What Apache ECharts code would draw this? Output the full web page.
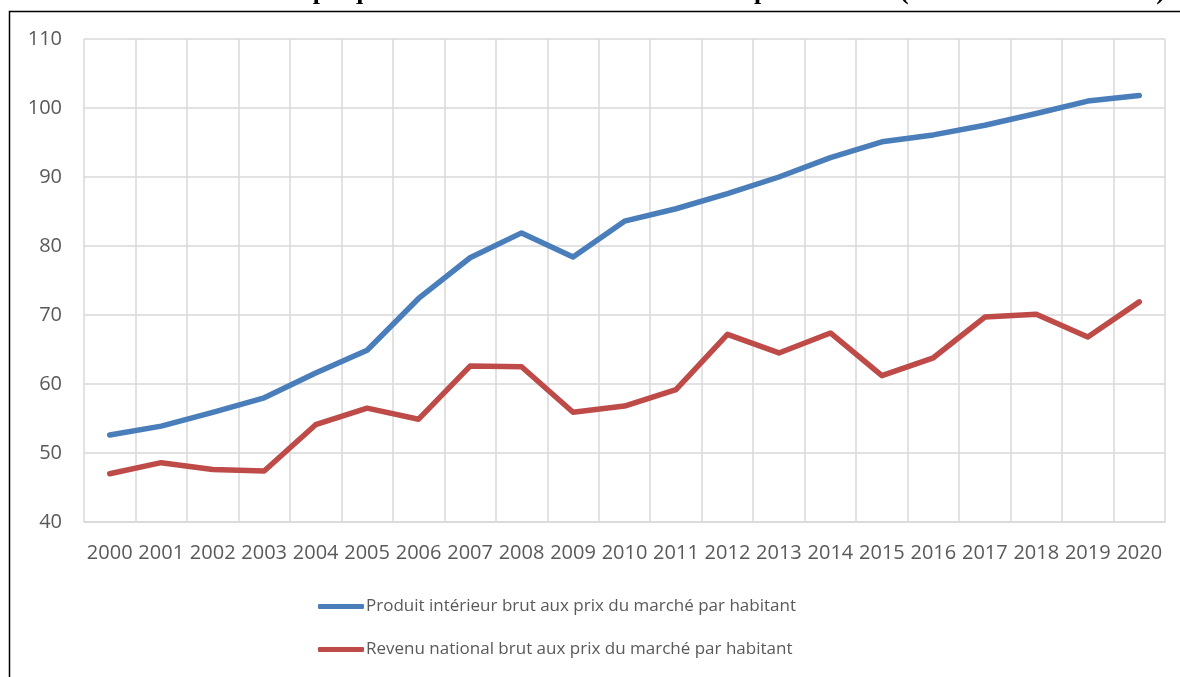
<!DOCTYPE html>
<html>
<head>
<meta charset="utf-8">
<script src="https://cdn.jsdelivr.net/npm/echarts@6/dist/echarts.min.js"></script>
<style>
  html, body { margin: 0; padding: 0; background: #fff; }
  #chart { width: 1180px; height: 677px; }
</style>
</head>
<body>
<div id="chart"></div>
<script>
const years = ["2000", "2001", "2002", "2003", "2004", "2005", "2006", "2007", "2008", "2009", "2010",
    "2011", "2012", "2013", "2014", "2015", "2016", "2017", "2018", "2019", "2020"];
const pibParHabitant = [52.6, 53.9, 55.9, 58.0, 61.6, 64.9, 72.4, 78.3, 81.9, 78.4, 83.6,
    85.4, 87.6, 90.0, 92.8, 95.1, 96.1, 97.5, 99.2, 101.0, 101.8];
const rnbParHabitant = [47.0, 48.6, 47.6, 47.4, 54.1, 56.5, 54.9, 62.6, 62.5, 55.9, 56.8,
    59.2, 67.2, 64.5, 67.4, 61.2, 63.8, 69.7, 70.1, 66.8, 71.9];
const seriesNames = [
    "Produit intérieur brut aux prix du marché par habitant",
    "Revenu national brut aux prix du marché par habitant"
];
const titleText = "Graphique 3 : Évolution du PIB et du RNB par habitant (en milliers de dirhams)";

const chart = echarts.init(document.getElementById("chart"));

const labelFont = "'Open Sans', 'Noto Sans', sans-serif";

chart.setOption({
    animation: false,
    backgroundColor: "#ffffff",
    graphic: [
        {
            // title sits above the page edge, only its lower part shows
            type: "text",
            x: 1165,
            y: -21,
            style: {
                text: titleText,
                align: "right",
                verticalAlign: "top",
                font: "bold 26px 'Liberation Serif', serif",
                fill: "#000000"
            },
            silent: true
        },
        {
            type: "rect",
            shape: { x: 9.5, y: 11.5, width: 1300, height: 800 },
            style: { fill: "none", stroke: "#000000", lineWidth: 1.5 },
            silent: true
        }
    ],
    grid: {
        left: 84,
        right: 15,
        top: 39,
        bottom: 155,
        containLabel: false
    },
    legend: {
        orient: "vertical",
        left: 318,
        top: 598,
        padding: 0,
        itemGap: 26,
        itemWidth: 46,
        itemHeight: 5,
        icon: "roundRect",
        textStyle: {
            color: "#595959",
            fontSize: 17,
            fontFamily: labelFont,
            padding: [0, 0, 0, -3]
        },
        data: seriesNames
    },
    xAxis: {
        type: "category",
        data: years,
        boundaryGap: true,
        axisTick: { show: false },
        axisLine: { lineStyle: { color: "#d9d9d9", width: 1.5 } },
        axisLabel: {
            color: "#595959",
            fontSize: 20,
            fontFamily: labelFont,
            margin: 21,
            interval: 0
        },
        splitLine: {
            show: true,
            interval: 0,
            lineStyle: { color: "#d9d9d9", width: 1.5 }
        }
    },
    yAxis: {
        type: "value",
        min: 40,
        max: 110,
        interval: 10,
        axisLine: { show: false },
        axisTick: { show: false },
        axisLabel: {
            color: "#595959",
            fontSize: 20,
            fontFamily: labelFont,
            margin: 22
        },
        splitLine: { lineStyle: { color: "#d9d9d9", width: 1.5 } }
    },
    series: [
        {
            name: seriesNames[0],
            type: "line",
            data: pibParHabitant,
            symbol: "none",
            lineStyle: { color: "#4a7ebb", width: 5.5, cap: "round", join: "round" },
            itemStyle: { color: "#4a7ebb" }
        },
        {
            name: seriesNames[1],
            type: "line",
            data: rnbParHabitant,
            symbol: "none",
            lineStyle: { color: "#be4b48", width: 5.5, cap: "round", join: "round" },
            itemStyle: { color: "#be4b48" }
        }
    ]
});
</script>
</body>
</html>
